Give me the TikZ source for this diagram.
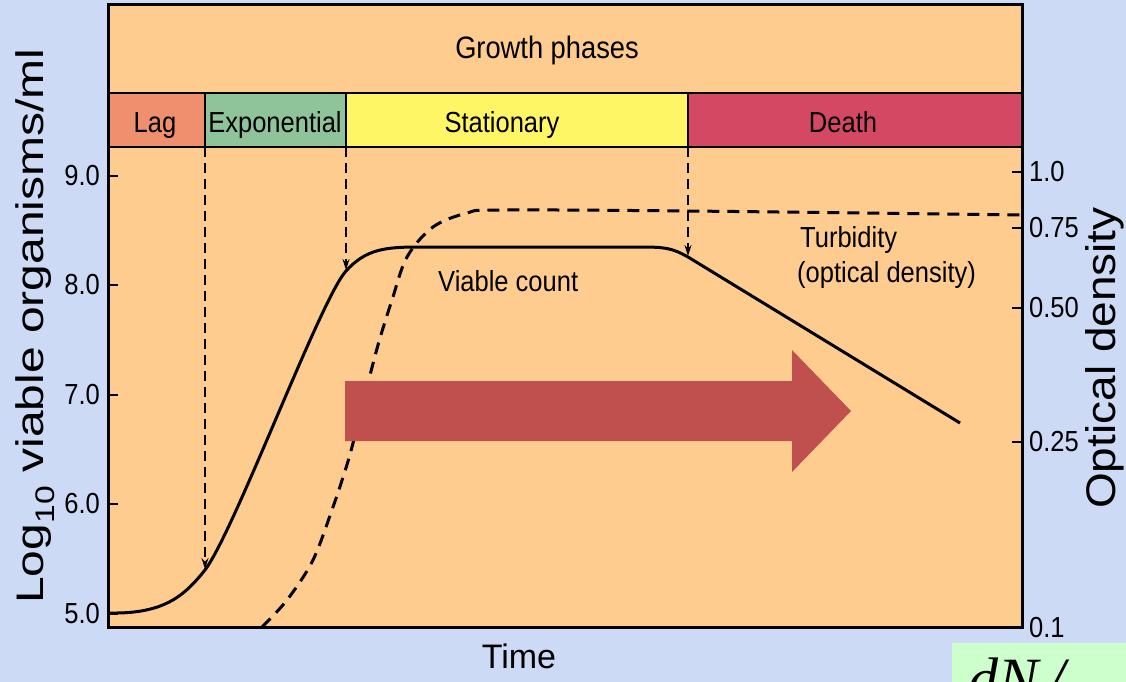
\documentclass[tikz,border=0pt]{standalone}
\usepackage{fontspec}
\setmainfont{Liberation Sans}
\newfontfamily\dnfont{Liberation Serif}
\usepackage{graphicx}
\usetikzlibrary{arrows.meta}

\definecolor{bgblue}{RGB}{204,218,245}
\definecolor{plotorange}{RGB}{255,204,143}
\definecolor{lagcol}{RGB}{239,143,110}
\definecolor{expcol}{RGB}{143,196,154}
\definecolor{statcol}{RGB}{255,246,102}
\definecolor{deathcol}{RGB}{212,72,100}
\definecolor{arrowred}{RGB}{192,80,77}
\definecolor{dngreen}{RGB}{204,255,204}

\newcommand{\narrow}[1]{\scalebox{0.88}[1]{#1}}
\newcommand{\fs}[1]{\fontsize{#1}{#1}\selectfont}

\begin{document}
\begin{tikzpicture}[x=1pt, y=-1pt,
  frame/.style={line width=3pt},
  phasebox/.style={draw=black, line width=1.5pt, minimum height=54pt,
    inner sep=0pt, outer sep=0pt},
  phaselbl/.style={font=\fs{29}, inner sep=0pt, anchor=base},
  ticklbl/.style={font=\fs{29}, inner sep=0pt},
  curvelbl/.style={font=\fs{29}, inner sep=0pt, anchor=base west},
  guide/.style={line width=1.3pt, dash pattern=on 10pt off 6pt,
    -{Stealth[length=11pt,width=7pt]}},
  tickmark/.style={line width=2pt},
  viable/.style={line width=3pt},
  turbid/.style={line width=3pt, dash pattern=on 12pt off 8pt}]
  \useasboundingbox (0,0) rectangle (1126,682);
  \clip (0,0) rectangle (1126,682);

  % Hintergrund und Diagrammfläche
  \fill[bgblue] (0,0) rectangle (1126,682);
  \fill[plotorange] (108,5) rectangle (1022,627);

  % Wachstumsphasen
  \node[font=\fs{31}, inner sep=0pt, anchor=base] (phases) at (547,59)
    {\narrow{Growth phases}};
  \node[phasebox, fill=lagcol, minimum width=97pt] (lag) at (156.5,120) {};
  \node[phasebox, fill=expcol, minimum width=141pt] (expo) at (275.5,120) {};
  \node[phasebox, fill=statcol, minimum width=342pt] (stat) at (517,120) {};
  \node[phasebox, fill=deathcol, minimum width=334pt] (death) at (855,120) {};
  \node[phaselbl] (laglbl) at (155,132) {\narrow{Lag}};
  \node[phaselbl] (expolbl) at (275,132) {\narrow{Exponential}};
  \node[phaselbl] (statlbl) at (502,132) {\narrow{Stationary}};
  \node[phaselbl] (deathlbl) at (843,132) {\narrow{Death}};

  % Achsen
  \foreach \yy/\val in {176/9.0, 285/8.0, 395/7.0, 504/6.0, 614/5.0} {
    \draw[tickmark] (108,\yy) -- (118,\yy);
    \node[ticklbl, anchor=east] (yl\yy) at (100,\yy) {\narrow{\val}};
  }
  \foreach \yy/\val in {172/1.0, 228/0.75, 308/0.50, 442/0.25} {
    \draw[tickmark] (1022,\yy) -- (1012,\yy);
    \node[ticklbl, anchor=west] (yr\yy) at (1029,\yy) {\narrow{\val}};
  }
  \node[ticklbl, anchor=west] (yr627) at (1029,628) {\narrow{0.1}};

  \node[rotate=90, anchor=base, inner sep=0pt, font=\fs{48}] (ylabel) at (43,326)
    {\scalebox{1}[0.8]{Log\textsubscript{10} viable organisms/ml}};
  \node[rotate=90, anchor=base, inner sep=0pt, font=\fs{46}] (odlabel) at (1115,358)
    {\scalebox{1}[0.9]{Optical density}};
  \node[font=\fs{34}, inner sep=0pt, anchor=base] (time) at (519,668) {Time};

  % Kurven
  \draw[turbid] plot[smooth, tension=0.55] coordinates {
    (262,627) (287,600) (313,560) (333,507) (345,471) (352,447) (365,395)
    (378,345) (392,300) (407,257) (433,227) (467,213) (500,210) (688,211)
    (1021,215)};
  \draw[viable] (110,613) .. controls (165,614) and (185,595) .. (205,570)
    .. controls (235,530) and (320,300) .. (346,271)
    .. controls (366,249) and (385,247) .. (420,247) -- (640,247)
    .. controls (665,247) and (672,248) .. (688,257) -- (960,423);
  \coordinate (lagend) at (205,569);
  \coordinate (expend) at (346,270);
  \coordinate (statend) at (688,256);

  % Phasengrenzen
  \draw[guide] (lag.south east) -- (lagend);
  \draw[guide] (expo.south east) -- (expend);
  \draw[guide] (stat.south east) -- (statend);

  \node[curvelbl] (viablelbl) at (438,291) {\narrow{Viable count}};
  \node[curvelbl] (turblbl) at (800,247) {\narrow{Turbidity}};
  \node[curvelbl] (odlbl) at (797,282) {\narrow{(optical density)}};

  % roter Pfeil
  \fill[arrowred] (345,381) -- (792,381) -- (792,350) -- (851,411)
    -- (792,472) -- (792,441) -- (345,441) -- cycle;

  \draw[frame] (108,5) rectangle (1022,627);

  % dN-Kasten
  \fill[dngreen] (952,643) rectangle (1126,682);
  \node[font=\dnfont\itshape\fs{60}, inner sep=0pt, anchor=base west] (dn)
    at (968,699) {dN\,/};
\end{tikzpicture}
\end{document}
